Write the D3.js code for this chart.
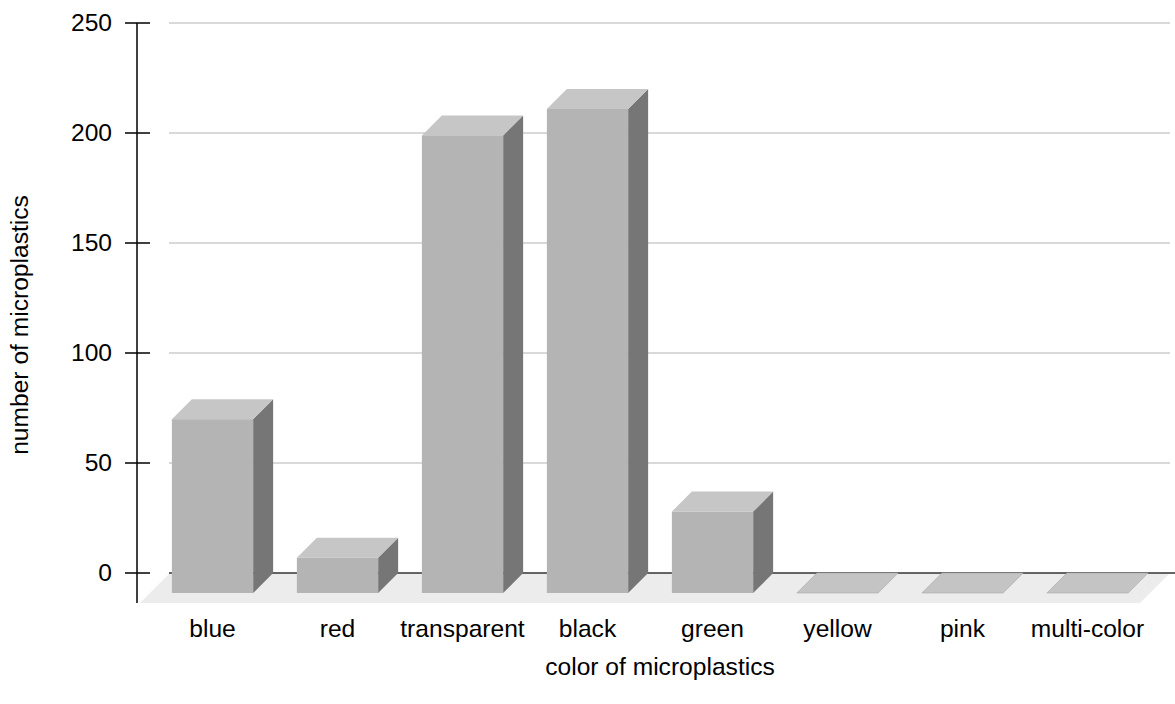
<!DOCTYPE html>
<html>
<head>
<meta charset="utf-8">
<script src="https://cdn.jsdelivr.net/npm/d3@7"></script>
<style>
  body { margin: 0; background: #fff; }
  svg { display: block; font-family: "Liberation Sans", Arial, Helvetica, sans-serif; }
</style>
</head>
<body>
<svg id="chart" width="1175" height="704"></svg>
<script>
// Microplastic counts by colour
const categories = ["blue", "red", "transparent", "black", "green", "yellow", "pink", "multi-color"];
const counts = [79, 16, 208, 220, 37, 0, 0, 0];
const yTicks = [0, 50, 100, 150, 200, 250];

const svg = d3.select("#chart");
const fontSize = 24.6;

// back-wall plane geometry
const backLeft = 170, backRight = 1170;
const floorDepth = 30;   // depth of the floor slab
const barDepth = 20;     // depth of each bar

const x = d3.scaleBand().domain(categories).range([backLeft, backRight])
  .paddingInner(0.35).paddingOuter(0.175);
const y = d3.scaleLinear().domain([0, 250]).range([573, 23]);

// project a point at depth z (0 = back wall) onto the screen
const P = (px, py, z) => [px - z, py + z];
const poly = pts => pts.map(p => p.join(",")).join(" ");

// floor
svg.append("polygon")
  .attr("points", poly([P(backLeft, y(0), 0), P(backRight, y(0), 0), P(backRight, y(0), floorDepth), P(backLeft, y(0), floorDepth)]))
  .attr("fill", "#ececec");

// gridlines on the back wall
svg.append("g").selectAll("line")
  .data(yTicks.filter(d => d > 0))
  .join("line")
  .attr("x1", backLeft - 1).attr("x2", backRight)
  .attr("y1", d => y(d)).attr("y2", d => y(d))
  .attr("stroke", "#cccccc").attr("stroke-width", 1.5);

// baseline at zero
svg.append("line")
  .attr("x1", backLeft - 1).attr("x2", 1175)
  .attr("y1", y(0)).attr("y2", y(0))
  .attr("stroke", "#333").attr("stroke-width", 1.5);

// bars as boxes: back face on the wall, front face barDepth forward
const bars = svg.append("g").selectAll("g")
  .data(categories.map((c, i) => ({ c, v: counts[i] })))
  .join("g");

bars.each(function(d) {
  const g = d3.select(this);
  const x0 = x(d.c), x1 = x(d.c) + x.bandwidth();
  const yt = y(d.v), yb = y(0);
  if (d.v > 0) {
    // right side
    g.append("polygon")
      .attr("points", poly([P(x1, yt, 0), P(x1, yb, 0), P(x1, yb, barDepth), P(x1, yt, barDepth)]))
      .attr("fill", "#767676");
    // top
    g.append("polygon")
      .attr("points", poly([P(x0, yt, 0), P(x1, yt, 0), P(x1, yt, barDepth), P(x0, yt, barDepth)]))
      .attr("fill", "#c6c6c6");
    // front
    const [fx, fy] = P(x0, yt, barDepth);
    g.append("rect")
      .attr("x", fx).attr("y", fy)
      .attr("width", x.bandwidth()).attr("height", yb - yt)
      .attr("fill", "#b4b4b4");
  } else {
    g.append("polygon")
      .attr("points", poly([P(x0, yt, 0), P(x1, yt, 0), P(x1, yt, barDepth), P(x0, yt, barDepth)]))
      .attr("fill", "#c4c4c4")
      .attr("stroke", "#a8a8a8").attr("stroke-width", 0.6);
  }
});

// category labels under the front faces
svg.append("g").selectAll("text")
  .data(categories)
  .join("text")
  .attr("x", d => x(d) + x.bandwidth() / 2 - barDepth)
  .attr("y", 637)
  .attr("text-anchor", "middle")
  .attr("font-size", fontSize)
  .attr("fill", "#000")
  .text(d => d);

// y axis
const axisX = 137;
svg.append("line")
  .attr("x1", axisX).attr("x2", axisX)
  .attr("y1", y(250)).attr("y2", y(0) + floorDepth)
  .attr("stroke", "#000").attr("stroke-width", 1.5);

const ticks = svg.append("g").selectAll("g").data(yTicks).join("g");
ticks.append("line")
  .attr("x1", 125).attr("x2", 150)
  .attr("y1", d => y(d)).attr("y2", d => y(d))
  .attr("stroke", "#000").attr("stroke-width", 1.5);
ticks.append("text")
  .attr("x", 112).attr("y", d => y(d) + 7.5)
  .attr("text-anchor", "end")
  .attr("font-size", fontSize)
  .text(d => d);

// axis titles
svg.append("text")
  .attr("transform", "translate(28,325) rotate(-90)")
  .attr("text-anchor", "middle")
  .attr("font-size", fontSize)
  .text("number of microplastics");

svg.append("text")
  .attr("x", 660).attr("y", 675)
  .attr("text-anchor", "middle")
  .attr("font-size", fontSize)
  .text("color of microplastics");
</script>
</body>
</html>
